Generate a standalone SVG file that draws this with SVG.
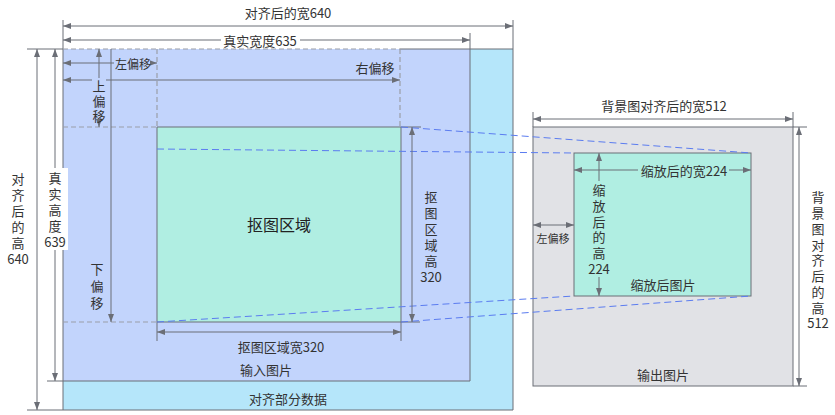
<svg xmlns="http://www.w3.org/2000/svg" width="835" height="415" viewBox="0 0 835 415">
<defs>
<marker id="ah" viewBox="0 0 8 6" markerWidth="8" markerHeight="6" refX="8" refY="3" orient="auto-start-reverse" markerUnits="userSpaceOnUse"><path d="M0,0 L8,3 L0,6 z" fill="#6b6e76"/></marker>
<style>
.t{font-family:"Noto Sans CJK SC","Liberation Sans",sans-serif;font-size:13px;fill:#333;text-anchor:middle;dominant-baseline:central}
.s12{font-size:12px}
.s11{font-size:11px}
.s16{font-size:16px;fill:#222}
.ln{stroke:#6b6e76;stroke-width:1;fill:none}
.dim{stroke:#6b6e76;stroke-width:1;fill:none;marker-start:url(#ah);marker-end:url(#ah)}
.dimE{stroke:#6b6e76;stroke-width:1;fill:none;marker-end:url(#ah)}
.dimS{stroke:#6b6e76;stroke-width:1;fill:none;marker-start:url(#ah)}
.gd{stroke:#9a9ea7;stroke-width:1.2;stroke-dasharray:5 3;fill:none}
.bd{stroke:#5b7cf0;stroke-width:1;stroke-dasharray:7 4;fill:none}
.box{stroke:#6b6e76;stroke-width:1}
</style>
</defs>
<rect x="0" y="0" width="835" height="415" fill="#ffffff"/>

<g id="aligned">
<rect x="63" y="49" width="450" height="361" fill="#b5e6fa"/>
<text class="t" x="288" y="398">对齐部分数据</text>
</g>
<g id="input">
<rect x="63" y="49" width="407" height="332" fill="#c2d4fc"/>
<text class="t" x="266" y="369">输入图片</text>
</g>
<g id="crop">
<rect x="157" y="127" width="244" height="195" fill="#b0eee2"/>
<text class="t s16" x="279" y="224">抠图区域</text>
</g>
<g id="output">
<rect x="533" y="127" width="260" height="259" fill="#e1e2e6" class="box"/>
<text class="t" x="663" y="374">输出图片</text>
</g>
<g id="scaled">
<rect x="574" y="153" width="177" height="143" fill="#b0eee2" class="box"/>
<text class="t" x="663" y="284">缩放后图片</text>
</g>

<g id="connectors">
<path class="ln" d="M27,49 H63 M400,49 H513 M63,20 V410 M513,20 V410 M27,410 H513 M470,33 V381 M47,381 H470"/>
<path class="ln" d="M157,127 H421 M157,127 V341 M401,127 V341 M157,322 H420"/>
<path class="ln" d="M533,112 V127 M793,112 V127 M793,127 H807 M793,386 H807"/>
<path class="gd" d="M63,49 H400 M157,49 V127 M63,127 H157 M63,322 H157"/>
<path class="gd" stroke-width="1.8" d="M400,49 V127"/>
<path class="bd" d="M401,127 L751,153 M157,149 L574,153 M157,322 L574,296 M401,322 L751,296"/>
<path class="dim" d="M63,26 H513"/>
<path class="dim" d="M63,40 H470"/>
<path class="dim" d="M63,63 H157"/>
<path class="dimS" d="M63,80 H92"/>
<path class="dimE" d="M106,80 H400"/>
<path class="dimS" d="M99,49 V78"/>
<path class="dimE" d="M99,120 V127"/>
<path class="dimE" d="M111,49 V322"/>
<path class="dim" d="M37,49 V410"/>
<path class="dim" d="M55,49 V381"/>
<path class="dim" d="M412,127 V322"/>
<path class="dim" d="M157,332 H401"/>
<path class="dim" d="M533,119 H793"/>
<path class="dim" d="M799,127 V386"/>
<path class="dim" d="M574,170 H751"/>
<path class="dim" d="M599,153 V296"/>
<path class="dim" d="M533,225 H574"/>
</g>

<g id="labels">
<text class="t" x="288" y="12">对齐后的宽640</text>
<rect x="221" y="32" width="79" height="16" fill="#ffffff"/>
<text class="t" x="260" y="40">真实宽度635</text>
<rect x="114" y="55" width="36" height="16" fill="#c2d4fc"/>
<text class="t s12" x="133" y="63">左偏移</text>
<text class="t" x="375" y="67">右偏移</text>
<text class="t" x="99"><tspan x="99" y="85">上</tspan><tspan x="99" y="100">偏</tspan><tspan x="99" y="115">移</tspan></text>
<text class="t" x="97"><tspan x="97" y="268">下</tspan><tspan x="97" y="285">偏</tspan><tspan x="97" y="302">移</tspan></text>
<text class="t" x="18"><tspan x="18" y="178">对</tspan><tspan x="18" y="194">齐</tspan><tspan x="18" y="210">后</tspan><tspan x="18" y="226">的</tspan><tspan x="18" y="242">高</tspan><tspan x="18" y="258">640</tspan></text>
<rect x="42" y="168" width="26" height="82" fill="#ffffff"/>
<text class="t" x="55"><tspan x="55" y="177">真</tspan><tspan x="55" y="193">实</tspan><tspan x="55" y="209">高</tspan><tspan x="55" y="225">度</tspan><tspan x="55" y="241">639</tspan></text>
<text class="t" x="431"><tspan x="431" y="196">抠</tspan><tspan x="431" y="212">图</tspan><tspan x="431" y="228">区</tspan><tspan x="431" y="244">域</tspan><tspan x="431" y="260">高</tspan><tspan x="431" y="276">320</tspan></text>
<text class="t" x="281" y="346">抠图区域宽320</text>
<text class="t" x="664" y="105">背景图对齐后的宽512</text>
<text class="t" x="818"><tspan x="818" y="196">背</tspan><tspan x="818" y="212">景</tspan><tspan x="818" y="228">图</tspan><tspan x="818" y="244">对</tspan><tspan x="818" y="259">齐</tspan><tspan x="818" y="275">后</tspan><tspan x="818" y="291">的</tspan><tspan x="818" y="307">高</tspan><tspan x="818" y="322">512</tspan></text>
<rect x="638" y="162" width="91" height="16" fill="#b0eee2"/>
<text class="t" x="684" y="170">缩放后的宽224</text>
<rect x="588" y="181" width="22" height="96" fill="#b0eee2"/>
<text class="t" x="599"><tspan x="599" y="189">缩</tspan><tspan x="599" y="205">放</tspan><tspan x="599" y="221">后</tspan><tspan x="599" y="236">的</tspan><tspan x="599" y="252">高</tspan><tspan x="599" y="268">224</tspan></text>
<text class="t s11" x="553" y="238">左偏移</text>
</g>
</svg>
